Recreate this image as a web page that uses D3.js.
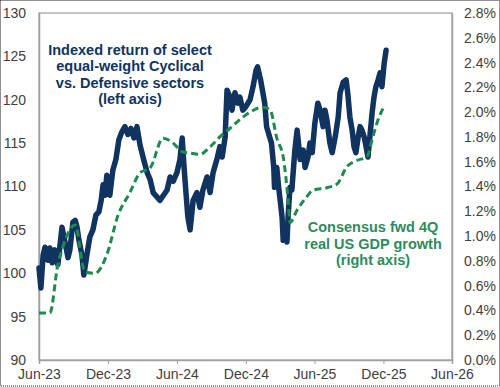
<!DOCTYPE html>
<html>
<head>
<meta charset="utf-8">
<script src="https://cdn.jsdelivr.net/npm/d3@7"></script>
<style>
  body { margin: 0; background: #fff; }
  svg { display: block; font-family: Arial, "Liberation Sans", sans-serif; }
</style>
</head>
<body>
<div id="chart"></div>
<script>
// Cyclical vs Defensive index (left axis)
const blueDates = [
  "2023-06-01","2023-06-06","2023-06-12","2023-06-17","2023-06-25","2023-06-30","2023-07-06","2023-07-13","2023-07-21",
  "2023-08-01","2023-08-09","2023-08-17","2023-08-22","2023-08-30","2023-09-05","2023-09-10","2023-09-15","2023-09-23",
  "2023-09-28","2023-10-06","2023-10-14","2023-10-22","2023-10-30","2023-11-07","2023-11-13","2023-11-18","2023-11-23",
  "2023-11-28","2023-12-06","2023-12-14","2023-12-22","2023-12-30","2024-01-07","2024-01-15","2024-01-23","2024-01-31",
  "2024-02-08","2024-02-16","2024-02-24","2024-03-03","2024-03-14","2024-03-22","2024-03-30","2024-04-09","2024-04-17",
  "2024-04-25","2024-05-06","2024-05-14","2024-05-22","2024-06-01","2024-06-09","2024-06-15","2024-06-20","2024-06-25",
  "2024-06-30","2024-07-06","2024-07-14","2024-07-24","2024-08-01","2024-08-09","2024-08-20","2024-08-28","2024-09-05",
  "2024-09-15","2024-09-23","2024-09-29","2024-10-07","2024-10-12","2024-10-20","2024-10-25","2024-11-02","2024-11-10",
  "2024-11-15","2024-11-23","2024-12-01","2024-12-12","2024-12-20","2024-12-28","2025-01-01","2025-01-09","2025-01-14",
  "2025-01-20","2025-01-25","2025-02-02","2025-02-07","2025-02-13","2025-02-15","2025-02-21","2025-02-26","2025-03-02",
  "2025-03-07","2025-03-10","2025-03-15","2025-03-20","2025-03-23","2025-03-28","2025-04-02","2025-04-10","2025-04-16",
  "2025-04-24","2025-05-02","2025-05-07","2025-05-15","2025-05-20","2025-05-26","2025-06-02","2025-06-10","2025-06-16",
  "2025-06-24","2025-06-29","2025-07-04","2025-07-12","2025-07-18","2025-07-26","2025-08-03","2025-08-08","2025-08-16",
  "2025-08-24","2025-08-29","2025-09-03","2025-09-09","2025-09-14","2025-09-19","2025-09-25","2025-09-30","2025-10-05",
  "2025-10-11","2025-10-16","2025-10-21","2025-10-26","2025-11-01","2025-11-06","2025-11-11","2025-11-17","2025-11-22",
  "2025-11-27","2025-12-03","2025-12-08"
];
const blueValues = [
  100.6, 98.3, 102.1, 103.0, 101.5, 102.9, 101.2, 102.7, 101.0,
  105.3, 103.6, 101.8, 102.7, 105.9, 106.1, 105.3, 103.8, 102.1,
  99.8, 102.1, 104.2, 105.0, 106.7, 107.1, 108.4, 110.2, 109.0,
  111.3, 109.0, 111.9, 113.1, 115.4, 116.3, 116.9, 116.0, 116.7,
  115.6, 116.9, 114.8, 113.4, 111.6, 110.8, 109.3, 108.8, 108.4,
  108.9, 109.6, 111.1, 110.6, 111.6, 113.1, 115.6, 112.2, 109.3,
  106.5, 105.0, 108.4, 109.3, 107.6, 109.6, 111.1, 109.3, 111.6,
  113.1, 114.6, 113.4, 115.7, 121.1, 120.3, 118.8, 120.8, 119.6,
  120.3, 118.8, 119.2, 120.0, 121.5, 123.4, 123.8, 122.3, 121.1,
  119.6, 116.9, 115.7, 115.0, 112.2, 109.9, 112.2, 109.9, 108.4,
  106.5, 103.8, 105.0, 103.6, 106.5, 109.9, 109.6, 114.2, 116.5,
  113.1, 114.2, 112.2, 113.4, 115.0, 113.9, 117.3, 119.6, 118.8,
  116.9, 118.8, 117.7, 115.0, 113.9, 115.7, 118.0, 120.8, 122.0,
  122.3, 120.5, 118.0, 116.5, 114.6, 113.9, 115.7, 116.9, 116.5,
  115.7, 114.6, 113.4, 115.7, 118.5, 120.3, 121.5, 122.3, 123.1,
  121.5, 124.2, 125.7
];

// Consensus fwd 4Q real GDP growth, % (right axis)
const greenDates = [
  "2023-06-01","2023-06-30","2023-07-21","2023-08-01","2023-09-05","2023-10-01","2023-10-28","2023-11-28","2023-12-28",
  "2024-01-28","2024-02-24","2024-03-22","2024-04-25","2024-05-22","2024-06-15","2024-07-06","2024-08-01","2024-08-28",
  "2024-09-23","2024-10-20","2024-11-15","2024-12-12","2025-01-15","2025-02-03","2025-02-22","2025-03-10","2025-03-23",
  "2025-03-28","2025-04-16","2025-05-12","2025-05-28","2025-07-04","2025-07-31","2025-08-26","2025-09-22","2025-10-18",
  "2025-11-03","2025-11-17","2025-11-30"
];
const greenValues = [
  0.38, 0.38, 0.77, 0.89, 1.09, 0.71, 0.70, 0.85, 1.17,
  1.35, 1.51, 1.55, 1.79, 1.75, 1.68, 1.67, 1.66, 1.72,
  1.80, 1.87, 1.94, 2.00, 2.04, 2.02, 1.78, 1.64, 1.29,
  1.11, 1.21, 1.32, 1.37, 1.39, 1.42, 1.56, 1.61, 1.64,
  1.80, 1.94, 2.03
];

const xTicks = ["2023-06-01","2023-12-01","2024-06-01","2024-12-01","2025-06-01","2025-12-01","2026-06-01"];
const leftTicks = [90, 95, 100, 105, 110, 115, 120, 125, 130];
const rightTicks = [0, 0.2, 0.4, 0.6, 0.8, 1.0, 1.2, 1.4, 1.6, 1.8, 2.0, 2.2, 2.4, 2.6, 2.8];

const blueNote = ["Indexed return of select", "equal-weight Cyclical", "vs. Defensive sectors", "(left axis)"];
const greenNote = ["Consensus fwd 4Q", "real US GDP growth", "(right axis)"];

const W = 500, H = 387;
const margin = { top: 13, right: 48, bottom: 27, left: 39 };
const parse = d3.timeParse("%Y-%m-%d");

const blueColor = "#10335f";
const greenColor = "#1f8a4d";
const textGreen = "#2e8b5c";
const axisText = "#404040";

const svg = d3.select("#chart").append("svg")
  .attr("width", W)
  .attr("height", H);

const x = d3.scaleTime()
  .domain([parse(xTicks[0]), parse(xTicks[xTicks.length - 1])])
  .range([margin.left, W - margin.right]);
const yL = d3.scaleLinear().domain([90, 130]).range([H - margin.bottom, margin.top]);
const yR = d3.scaleLinear().domain([0, 2.8]).range([H - margin.bottom, margin.top]);

// outer dotted frame
svg.append("rect")
  .attr("x", 0.5).attr("y", 0.5)
  .attr("width", W - 1).attr("height", H - 1.5)
  .attr("fill", "none")
  .attr("stroke", "#222")
  .attr("stroke-dasharray", "1,1");

// plot area border
svg.append("rect")
  .attr("x", margin.left).attr("y", margin.top)
  .attr("width", W - margin.right - margin.left)
  .attr("height", H - margin.bottom - margin.top)
  .attr("fill", "none")
  .attr("stroke", "#b0b0b0")
  .attr("stroke-width", 1.5);

// axes
const xAxis = svg.append("g")
  .attr("transform", `translate(0,${H - margin.bottom})`)
  .call(d3.axisBottom(x)
    .tickValues(xTicks.map(parse))
    .tickFormat(d3.timeFormat("%b-%y"))
    .tickSize(4)
    .tickPadding(5));

const leftAxis = svg.append("g")
  .attr("transform", `translate(${margin.left},0)`)
  .call(d3.axisLeft(yL).tickValues(leftTicks).tickSize(0).tickPadding(13));

const rightAxis = svg.append("g")
  .attr("transform", `translate(${W - margin.right},0)`)
  .call(d3.axisRight(yR).tickValues(rightTicks).tickSize(0).tickPadding(12)
    .tickFormat(d => d.toFixed(1) + "%"));

[xAxis, leftAxis, rightAxis].forEach(a => {
  a.select(".domain").attr("stroke", "#a0a0a0").attr("stroke-width", 1.5);
  a.selectAll(".tick line").attr("stroke", "#a0a0a0");
  a.selectAll("text").attr("fill", axisText).style("font-size", "14px");
});

// lines
const blueData = blueDates.map((d, i) => ({ date: parse(d), value: blueValues[i] }));
const greenData = greenDates.map((d, i) => ({ date: parse(d), value: greenValues[i] }));

svg.append("path")
  .datum(blueData)
  .attr("fill", "none")
  .attr("stroke", blueColor)
  .attr("stroke-width", 5.5)
  .attr("stroke-linejoin", "round")
  .attr("stroke-linecap", "round")
  .attr("d", d3.line().x(d => x(d.date)).y(d => yL(d.value)));

svg.append("path")
  .datum(greenData)
  .attr("fill", "none")
  .attr("stroke", greenColor)
  .attr("stroke-width", 3)
  .attr("stroke-dasharray", "7,4")
  .attr("d", d3.line().curve(d3.curveMonotoneX).x(d => x(d.date)).y(d => yR(d.value)));

// annotations
svg.append("text")
  .attr("text-anchor", "middle")
  .attr("fill", blueColor)
  .style("font-size", "14.5px")
  .style("font-weight", "bold")
  .selectAll("tspan")
  .data(blueNote)
  .join("tspan")
  .attr("x", 130)
  .attr("y", (d, i) => 55 + i * 16.3)
  .text(d => d);

svg.append("text")
  .attr("text-anchor", "middle")
  .attr("fill", textGreen)
  .style("font-size", "14.5px")
  .style("font-weight", "bold")
  .selectAll("tspan")
  .data(greenNote)
  .join("tspan")
  .attr("x", 373)
  .attr("y", (d, i) => 232 + i * 16.5)
  .text(d => d);
</script>
</body>
</html>
